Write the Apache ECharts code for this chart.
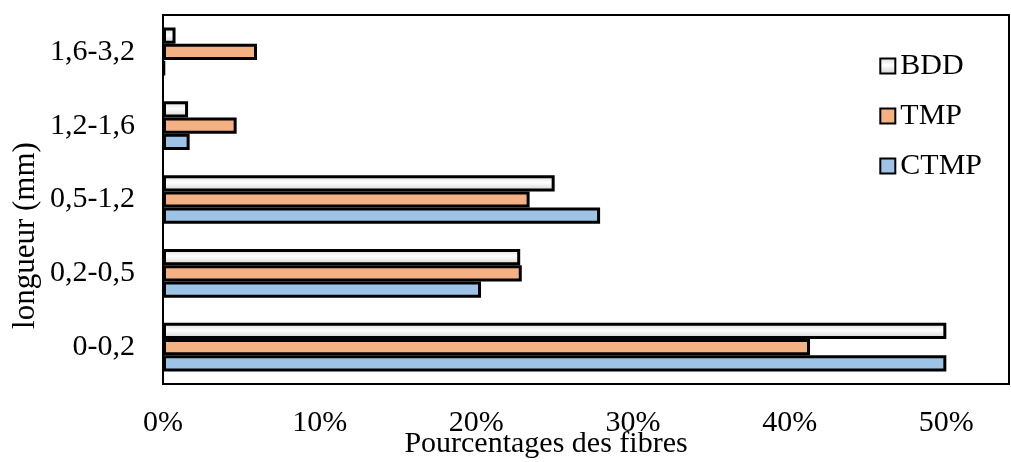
<!DOCTYPE html>
<html>
<head>
<meta charset="utf-8">
<script src="https://cdn.jsdelivr.net/npm/echarts@6/dist/echarts.min.js"></script>
<style>
  html, body { margin: 0; padding: 0; background: #fff; }
  #chart { width: 1011px; height: 462px; }
</style>
</head>
<body>
<div id="chart"></div>
<script>
// fiber length classes (mm), bottom to top
const categories = ['0-0,2', '0,2-0,5', '0,5-1,2', '1,2-1,6', '1,6-3,2']
const bdd = [50.0, 22.8, 25.0, 1.6, 0.8]
const tmp = [41.3, 22.9, 23.4, 4.7, 6.0]
const ctmp = [50.0, 20.3, 27.9, 1.7, 0.1]

const serif = 'Liberation Serif'
const chart = echarts.init(document.getElementById('chart'))

const bddFill = new echarts.graphic.LinearGradient(0, 0, 0, 1, [
  { offset: 0, color: '#d8d8d8' },
  { offset: 0.45, color: '#ffffff' },
  { offset: 1, color: '#cfcfcf' }
])

function barSeries(name, data, color) {
  return {
    name: name,
    type: 'bar',
    data: data,
    barGap: '0%',
    barCategoryGap: '34%',
    itemStyle: { color: color, borderColor: '#000', borderWidth: 3 }
  }
}

chart.setOption({
  animation: false,
  textStyle: { fontFamily: serif },
  grid: {
    left: 163, right: 2, top: 15, bottom: 78,
    outerBoundsMode: 'none',
    show: true, borderColor: '#000', borderWidth: 2
  },
  legend: {
    orient: 'vertical',
    right: 24,
    top: 46,
    icon: 'rect',
    itemWidth: 15,
    itemHeight: 15,
    itemGap: 20,
    data: ['BDD', 'TMP', 'CTMP'],
    textStyle: { fontFamily: serif, fontSize: 30, color: '#000' }
  },
  xAxis: {
    type: 'value',
    min: 0,
    max: 54,
    interval: 10,
    name: 'Pourcentages des fibres',
    nameLocation: 'middle',
    nameGap: 45,
    nameMoveOverlap: false,
    nameTextStyle: { fontFamily: serif, fontSize: 30, color: '#000', padding: [0, 80, 0, 0] },
    splitLine: { show: false },
    axisLine: { show: false },
    axisTick: { show: false },
    axisLabel: {
      fontFamily: serif, fontSize: 30, color: '#000', margin: 24,
      formatter: v => (v % 10 === 0 ? v + '%' : '')
    }
  },
  yAxis: {
    type: 'category',
    data: categories,
    name: 'longueur (mm)',
    nameLocation: 'middle',
    nameGap: 122,
    nameMoveOverlap: false,
    nameTextStyle: { fontFamily: serif, fontSize: 31, color: '#000', padding: [0, 72, 0, 0] },
    axisLine: { show: true, lineStyle: { color: '#000', width: 2 } },
    axisTick: { show: false },
    axisLabel: { fontFamily: serif, fontSize: 30, color: '#000', margin: 28 }
  },
  series: [
    barSeries('BDD', bdd, bddFill),
    barSeries('TMP', tmp, '#f4b183'),
    barSeries('CTMP', ctmp, '#9dc3e6')
  ]
})
</script>
</body>
</html>
